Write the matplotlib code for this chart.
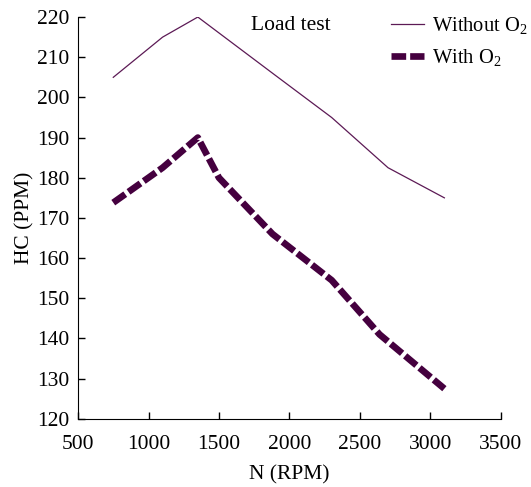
import matplotlib.pyplot as plt

# data
rpm_without = [750, 1100, 1350, 1900, 2300, 2700, 3100]
hc_without = [205, 215, 220, 205.5, 195, 182.5, 175]

rpm_with = [750, 1100, 1350, 1500, 1880, 2300, 2640, 3100]
hc_with = [173.8, 182.5, 190, 180, 166, 154.5, 141, 127.5]

xticks = [500, 1000, 1500, 2000, 2500, 3000, 3500]
yticks = [120, 130, 140, 150, 160, 170, 180, 190, 200, 210, 220]

plt.rcParams['font.family'] = ['Liberation Serif', 'DejaVu Serif']
plt.rcParams['font.size'] = 15.5
plt.rcParams['mathtext.fontset'] = 'custom'
plt.rcParams['mathtext.rm'] = 'Liberation Serif'
plt.rcParams['mathtext.it'] = 'Liberation Serif:italic'

fig = plt.figure(figsize=(5.31, 4.87), dpi=100)
ax = fig.add_axes([0.147, 0.140, 0.796, 0.825])

ax.plot(rpm_without, hc_without, color='#5c1a55', lw=0.9, label='Without O$_\\mathrm{2}$')
ax.plot(rpm_with, hc_with, color='#45003f', lw=4.8, ls=(0, (2.2, 0.6)),
        label='With O$_\\mathrm{2}$')

ax.set_xlim(500, 3500)
ax.set_ylim(120, 220)
ax.set_xticks(xticks)
ax.set_yticks(yticks)
ax.tick_params(direction='in', length=5, width=1)
ax.tick_params(axis='x', pad=12)
ax.tick_params(axis='y', pad=6)
ax.spines['top'].set_visible(False)
ax.spines['right'].set_visible(False)

ax.set_xlabel('N (RPM)', labelpad=8)
ax.set_ylabel('HC (PPM)', labelpad=2)
ax.text(0.503, 1.003, 'Load test', transform=ax.transAxes, ha='center', va='top')

ax.legend(loc='upper left', bbox_to_anchor=(0.741, 1.005), frameon=False,
          fontsize=14.8, handlelength=1.6, handletextpad=0.37, labelspacing=0.55,
          borderaxespad=0, borderpad=0)

fig.savefig('out.png', dpi=100)
